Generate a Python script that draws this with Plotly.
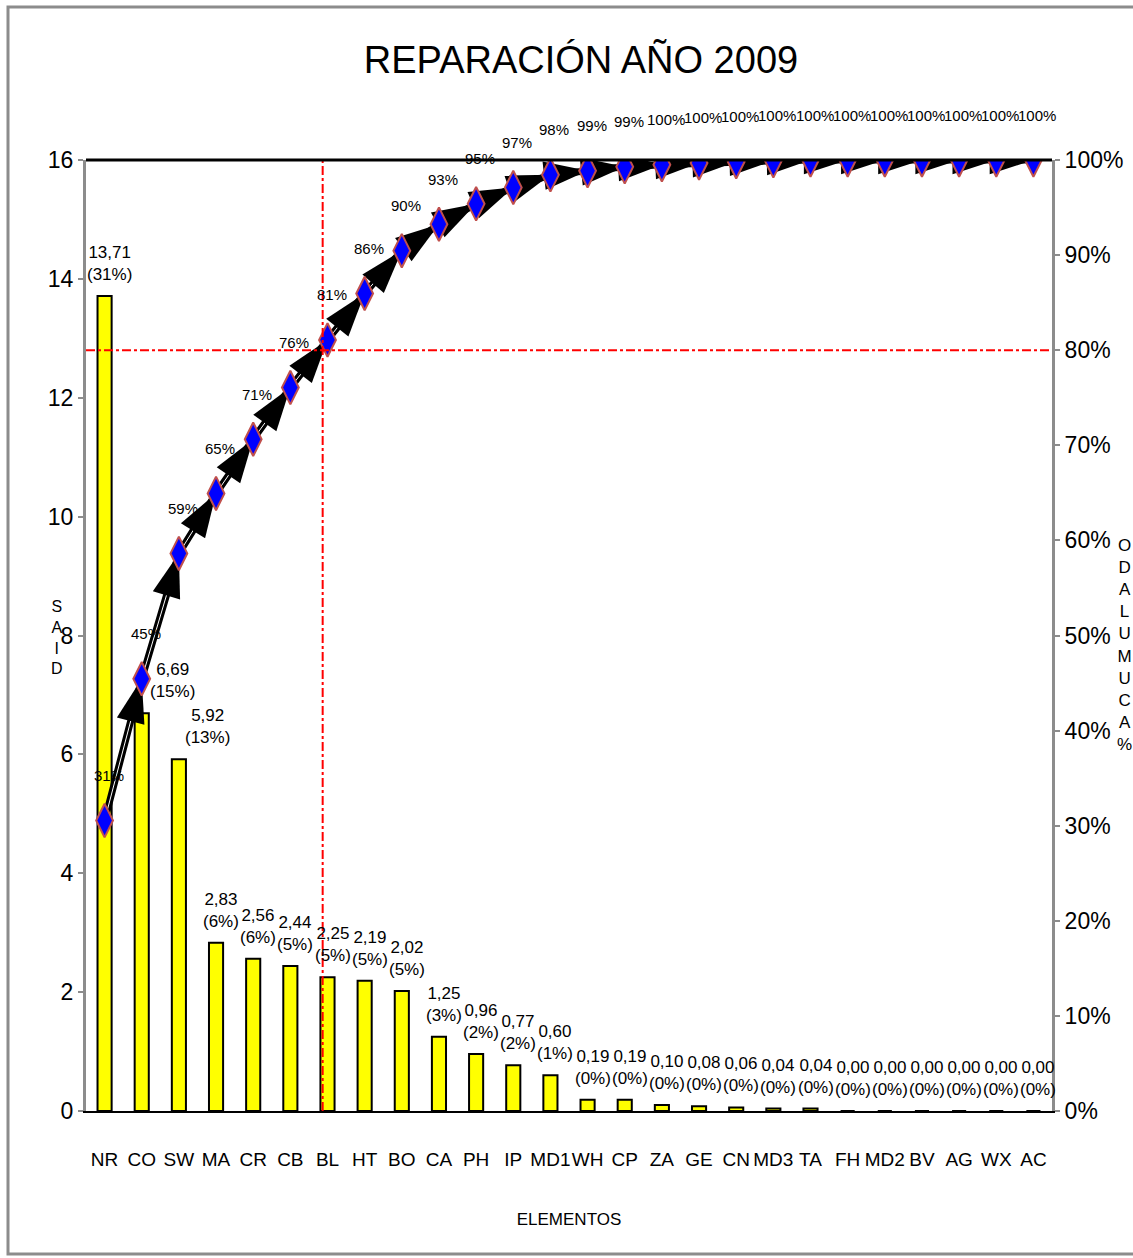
import plotly.graph_objects as go

# Repair days per element, 2009 (Pareto)
categories = ["NR", "CO", "SW", "MA", "CR", "CB", "BL", "HT", "BO", "CA", "PH", "IP", "MD1",
              "WH", "CP", "ZA", "GE", "CN", "MD3", "TA", "FH", "MD2", "BV", "AG", "WX", "AC"]
dias = [13.71, 6.69, 5.92, 2.83, 2.56, 2.44, 2.25, 2.19, 2.021, 1.25, 0.96, 0.77, 0.60,
        0.19, 0.19, 0.10, 0.08, 0.06, 0.04, 0.04, 0.0, 0.0, 0.0, 0.0, 0.0, 0.0]
left_ticks = [0, 2, 4, 6, 8, 10, 12, 14, 16]
right_ticks = [0, 0.1, 0.2, 0.3, 0.4, 0.5, 0.6, 0.7, 0.8, 0.9, 1.0]
umbral = 0.8

FONT = "Liberation Sans Narrow, Arial Narrow, Liberation Sans, Arial, sans-serif"
W, H = 1133, 1258
ML, MR, MT, MB = 86, 81, 160, 147
PW, PH = W - ML - MR, H - MT - MB

total = sum(dias)
share = [v / total for v in dias]
acum = []
run = 0.0
for v in dias:
    run += v
    acum.append(run / total)
idx = list(range(len(categories)))

fig = go.Figure()

# bars (left axis)
fig.add_trace(go.Bar(
    x=idx, y=dias, width=0.38,
    marker=dict(color="#FFFF00", line=dict(color="black", width=2)),
    yaxis="y", showlegend=False, hoverinfo="skip"))

# cumulative line drawn as arrows between successive points
fig.add_trace(go.Scatter(
    x=idx, y=acum, yaxis="y2", mode="lines",
    line=dict(color="black", width=7),
    showlegend=False, hoverinfo="skip"))
fig.add_trace(go.Scatter(
    x=idx, y=acum, yaxis="y2", mode="lines",
    line=dict(color="white", width=1),
    showlegend=False, hoverinfo="skip"))
fig.add_trace(go.Scatter(
    x=idx, y=acum, yaxis="y2", mode="markers",
    marker=dict(symbol="arrow", angleref="previous", color="black", opacity=1,
                line=dict(width=0), size=[0] + [46] * (len(idx) - 1)),
    showlegend=False, hoverinfo="skip"))
fig.add_trace(go.Scatter(
    x=idx, y=acum, yaxis="y2", mode="markers",
    marker=dict(symbol="diamond-tall", size=24, color="#0000FF",
                line=dict(color="#C0504D", width=2)),
    showlegend=False, hoverinfo="skip"))

annotations = []
label_nudge = {"CO": 26, "SW": 24}
for i, (c, v, s) in enumerate(zip(categories, dias, share)):
    annotations.append(dict(
        x=i, y=v, xref="x", yref="y", yanchor="bottom", yshift=10,
        xshift=5 + label_nudge.get(c, 0),
        text=f"{v:.2f}".replace(".", ",") + f"<br>({round(s * 100):.0f}%)",
        showarrow=False, font=dict(family=FONT, size=17, color="black")))
for i, a in enumerate(acum):
    annotations.append(dict(
        x=i, y=a, xref="x", yref="y2", yshift=45, xshift=4,
        text=f"{round(a * 100):.0f}%", showarrow=False,
        font=dict(family=FONT, size=15, color="black")))

# stacked axis titles
annotations.append(dict(
    x=(57 - ML) / PW, y=(H - MB - 637) / PH, xref="paper", yref="paper",
    xanchor="center", yanchor="middle",
    text="<br>".join(reversed("DIAS")), showarrow=False,
    font=dict(family=FONT, size=16, color="black")))
annotations.append(dict(
    x=(1124 - ML) / PW, y=(H - MB - 645) / PH, xref="paper", yref="paper",
    xanchor="center", yanchor="middle",
    text="<br>".join(reversed("%ACUMULADO")), showarrow=False,
    font=dict(family=FONT, size=17, color="black")))

# 80 % cut point
corte = next(i for i, a in enumerate(acum) if a >= umbral)
shapes = [
    dict(type="line", xref="paper", x0=0, x1=1, yref="y2", y0=umbral, y1=umbral,
         line=dict(color="red", width=2, dash="dashdot")),
    dict(type="line", xref="x", x0=corte - 0.13, x1=corte - 0.13, yref="paper", y0=0, y1=1,
         line=dict(color="red", width=2, dash="dashdot")),
    dict(type="line", xref="paper", x0=0, x1=1, yref="paper", y0=1, y1=1,
         line=dict(color="black", width=3)),
    dict(type="rect", xref="paper", yref="paper",
         x0=(8 - ML) / PW, x1=(1145 - ML) / PW,
         y0=(H - MB - 1254) / PH, y1=(H - MB - 7) / PH,
         line=dict(color="#8C8C8C", width=3)),
]

fig.update_layout(
    width=W, height=H, autosize=False,
    margin=dict(l=ML, r=MR, t=MT, b=MB, autoexpand=False),
    paper_bgcolor="white", plot_bgcolor="white",
    title=dict(text="REPARACIÓN AÑO 2009", x=581 / W, xanchor="center",
               y=1 - 60 / H, yanchor="middle",
               font=dict(family=FONT, size=38, color="black")),
    xaxis=dict(tickmode="array", tickvals=idx, ticktext=categories,
               range=[-0.5, len(idx) - 0.5], showgrid=False, zeroline=False,
               showline=True, linecolor="black", linewidth=1.5,
               ticks="outside", ticklen=30, tickcolor="rgba(0,0,0,0)",
               tickangle=0, automargin=False,
               tickfont=dict(family=FONT, size=19, color="black"),
               title=dict(text="ELEMENTOS", standoff=45,
                          font=dict(family=FONT, size=17, color="black"))),
    yaxis=dict(range=[0, 16], tickvals=left_ticks, showgrid=False, zeroline=False,
               showline=True, linecolor="#8C8C8C", linewidth=3, automargin=False,
               ticks="outside", ticklen=5, tickcolor="#8C8C8C", tickwidth=2,
               tickfont=dict(family=FONT, size=23, color="black")),
    yaxis2=dict(range=[0, 1], tickvals=right_ticks, tickformat=".0%",
                overlaying="y", side="right", showgrid=False, zeroline=False,
                showline=True, linecolor="#8C8C8C", linewidth=3, automargin=False,
                ticks="outside", ticklen=5, tickcolor="#8C8C8C", tickwidth=2,
                tickfont=dict(family=FONT, size=23, color="black")),
    annotations=annotations, shapes=shapes,
)

fig.write_html("out.html")
